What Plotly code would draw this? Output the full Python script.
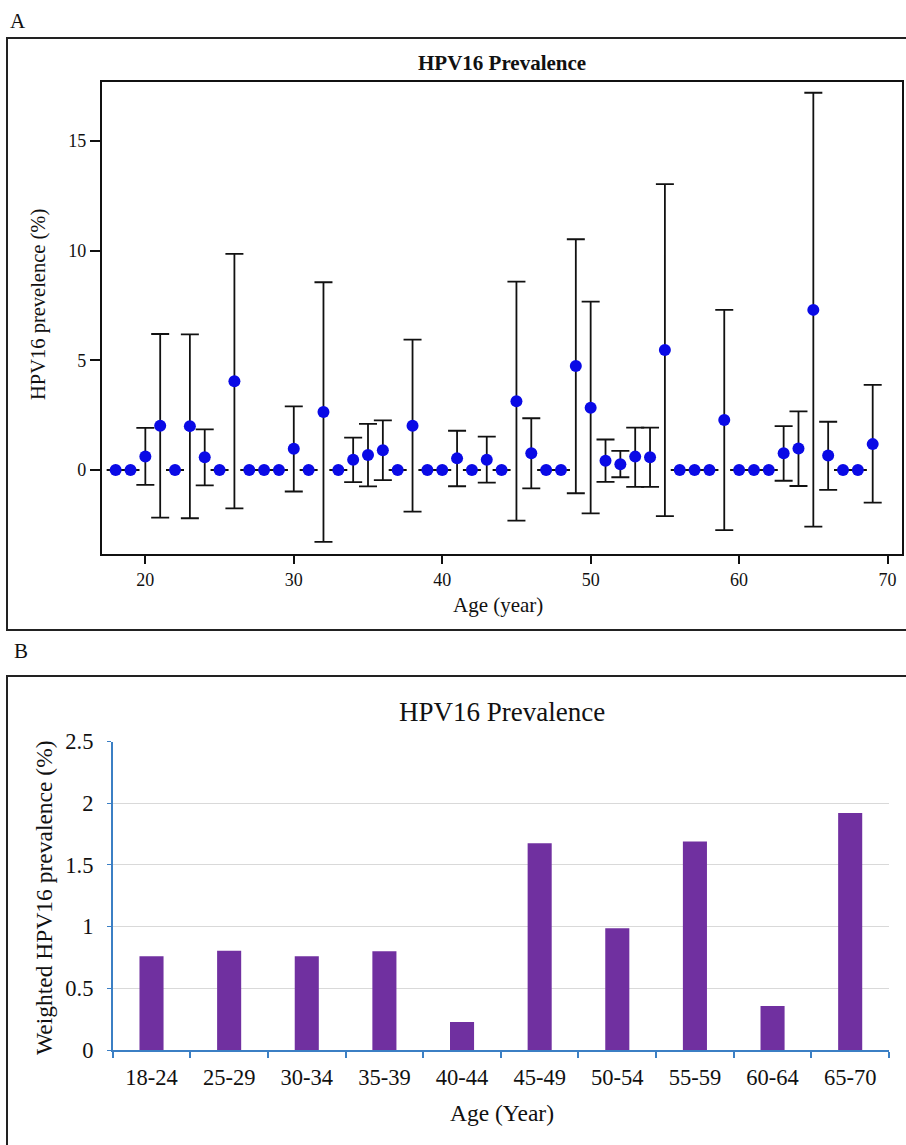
import plotly.graph_objects as go

# ---- Panel A: single-year HPV16 prevalence with 95% CI ----
ages = list(range(18, 70))
prevalence = [
    0, 0, 0.62, 2.02, 0, 2.00, 0.58, 0, 4.05, 0,
    0, 0, 0.97, 0, 2.64, 0, 0.47, 0.68, 0.90, 0,
    2.02, 0, 0, 0.53, 0, 0.47, 0, 3.13, 0.76, 0,
    0, 4.74, 2.84, 0.42, 0.26, 0.61, 0.58, 5.47, 0, 0,
    0, 2.28, 0, 0, 0, 0.76, 0.98, 7.30, 0.66, 0,
    0, 1.18,
]
ci_lower = [
    0, 0, -0.68, -2.17, 0, -2.20, -0.70, 0, -1.75, 0,
    0, 0, -0.98, 0, -3.28, 0, -0.55, -0.75, -0.46, 0,
    -1.90, 0, 0, -0.74, 0, -0.58, 0, -2.31, -0.84, 0,
    0, -1.06, -1.98, -0.54, -0.33, -0.77, -0.77, -2.10, 0, 0,
    0, -2.74, 0, 0, 0, -0.49, -0.73, -2.58, -0.91, 0,
    0, -1.49,
]
ci_upper = [
    0, 0, 1.92, 6.20, 0, 6.18, 1.85, 0, 9.85, 0,
    0, 0, 2.90, 0, 8.56, 0, 1.48, 2.10, 2.26, 0,
    5.94, 0, 0, 1.79, 0, 1.52, 0, 8.59, 2.36, 0,
    0, 10.52, 7.68, 1.39, 0.87, 1.93, 1.93, 13.03, 0, 0,
    0, 7.30, 0, 0, 0, 2.00, 2.67, 17.20, 2.20, 0,
    0, 3.88,
]
a_xticks = [20, 30, 40, 50, 60, 70]
a_yticks = [0, 5, 10, 15]

# ---- Panel B: weighted prevalence by age group ----
age_groups = ["18-24", "25-29", "30-34", "35-39", "40-44",
              "45-49", "50-54", "55-59", "60-64", "65-70"]
weighted_prev = [0.76, 0.805, 0.76, 0.80, 0.227, 1.675, 0.986, 1.69, 0.356, 1.92]
b_yticks = [0, 0.5, 1, 1.5, 2, 2.5]

W, H = 906, 1145
SERIF = "Liberation Serif"
AXIS_BLUE = "#3b7fc4"


def px_x(p):
    return p / W


def px_y(p):
    return 1 - p / H


err_plus = [u - v for u, v in zip(ci_upper, prevalence)]
err_minus = [v - l for v, l in zip(prevalence, ci_lower)]

fig = go.Figure()

fig.add_trace(go.Scatter(
    x=ages, y=prevalence, mode="markers",
    marker=dict(color="#0a0ae6", size=12, line=dict(width=0)),
    error_y=dict(type="data", symmetric=False, array=err_plus,
                 arrayminus=err_minus, color="#111111",
                 thickness=1.8, width=9),
    xaxis="x", yaxis="y", showlegend=False,
))

fig.add_trace(go.Bar(
    x=age_groups, y=weighted_prev, marker=dict(color="#7030a0", line=dict(width=0)),
    xaxis="x2", yaxis="y2", showlegend=False,
))

fig.update_layout(
    width=W, height=H,
    margin=dict(l=0, r=0, t=0, b=0, pad=0, autoexpand=False),
    paper_bgcolor="white", plot_bgcolor="white",
    font=dict(family=SERIF, color="#111111"),
    bargap=0.69,
    xaxis=dict(
        domain=[px_x(101.7), px_x(901.5)], range=[17.06, 70.94],
        tickmode="array", tickvals=a_xticks,
        ticks="outside", ticklen=8, tickwidth=1.5, tickcolor="#111111",
        showline=True, linewidth=1.8, linecolor="#111111", mirror=True,
        showgrid=False, zeroline=False, automargin=False,
        tickfont=dict(family=SERIF, size=18, color="#111111"),
        anchor="y",
    ),
    yaxis=dict(
        domain=[px_y(554), px_y(82)], range=[-3.83, 17.69],
        tickmode="array", tickvals=a_yticks,
        ticks="outside", ticklen=10, tickwidth=1.5, tickcolor="#111111",
        showline=True, linewidth=1.8, linecolor="#111111", mirror=True,
        showgrid=False, zeroline=False, automargin=False,
        tickfont=dict(family=SERIF, size=18, color="#111111"),
        anchor="x",
    ),
    xaxis2=dict(
        domain=[px_x(112.7), px_x(889)],
        type="category", tickson="boundaries",
        ticks="outside", ticklen=6, tickwidth=1.5, tickcolor=AXIS_BLUE,
        showline=True, linewidth=1.5, linecolor=AXIS_BLUE,
        showgrid=False, zeroline=False, ticklabelstandoff=6, automargin=False,
        tickfont=dict(family=SERIF, size=22.5, color="#111111"),
        anchor="y2",
    ),
    yaxis2=dict(
        domain=[px_y(1050), px_y(741.5)], range=[0, 2.5],
        tickmode="array", tickvals=b_yticks,
        ticktext=["0", "0.5", "1", "1.5", "2", "2.5"],
        ticks="outside", ticklen=4, tickwidth=1.2, tickcolor=AXIS_BLUE,
        showline=True, linewidth=1.5, linecolor=AXIS_BLUE,
        showgrid=True, gridcolor="#d9d9d9", gridwidth=1.3,
        zeroline=False, ticklabelstandoff=9, automargin=False,
        tickfont=dict(family=SERIF, size=22.5, color="#111111"),
        anchor="x2",
    ),
)

# panel frames
fig.add_shape(type="rect", xref="paper", yref="paper",
              x0=px_x(7), x1=px_x(912), y0=px_y(630), y1=px_y(38),
              line=dict(color="#222222", width=2))
fig.add_shape(type="rect", xref="paper", yref="paper",
              x0=px_x(7), x1=px_x(912), y0=px_y(1160), y1=px_y(676),
              line=dict(color="#222222", width=2))

ann = [
    dict(text="A", x=px_x(8), y=px_y(21), xanchor="left", yanchor="middle",
         font=dict(size=21)),
    dict(text="B", x=px_x(12), y=px_y(651), xanchor="left", yanchor="middle",
         font=dict(size=21)),
    dict(text="<b>HPV16 Prevalence</b>", x=px_x(502), y=px_y(63),
         xanchor="center", yanchor="middle", font=dict(size=21)),
    dict(text="HPV16 prevelence (%)", x=px_x(38), y=px_y(305),
         xanchor="center", yanchor="middle", textangle=-90, font=dict(size=20.5)),
    dict(text="Age (year)", x=px_x(498), y=px_y(605),
         xanchor="center", yanchor="middle", font=dict(size=21)),
    dict(text="HPV16 Prevalence", x=px_x(502), y=px_y(712),
         xanchor="center", yanchor="middle", font=dict(size=27)),
    dict(text="Weighted HPV16 prevalence (%)", x=px_x(44), y=px_y(898),
         xanchor="center", yanchor="middle", textangle=-90, font=dict(size=23.5)),
    dict(text="Age (Year)", x=px_x(502), y=px_y(1113),
         xanchor="center", yanchor="middle", font=dict(size=23.5)),
]
for a in ann:
    a.update(xref="paper", yref="paper", showarrow=False)
    a["font"].update(family=SERIF, color="#111111")
fig.update_layout(annotations=ann)

fig.write_html("out.html")
